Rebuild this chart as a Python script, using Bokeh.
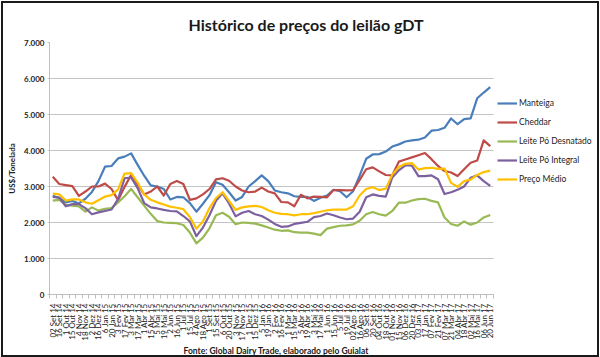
import math
from bokeh.plotting import figure
from bokeh.models import FixedTicker, Legend, LegendItem, Range1d, Title
from bokeh.embed import file_html
from bokeh.resources import INLINE

dates = ["02 Set 14", "16 Set 14", "1 Out 14", "15 Out 14", "4 Nov 14", "18 Nov 14", "2 Dez 14", "16 Dez 14",
         "6 Jan 15", "20 Jan 15", "3 Fev 15", "17 Fev 15", "3 Mar 15", "17 Mar 15", "1 Abr 15", "15 Abr 15",
         "5 Mai 15", "19 Mai 15", "2 Jun 15", "16 Jun 15", "1 Jul 15", "15 Jul 15", "4 Ago 15", "18 Ago 15",
         "1 Set 15", "15 Set 15", "6 Out 15", "20 Out 15", "3 Nov 15", "17 Nov 15", "1 Dez 15", "15 Dez 15",
         "5 Jan 16", "19 Jan 16", "2 Fev 16", "16 Fev 16", "1 Mar 16", "15 Mar 16", "5 Abr 16", "19 Abr 16",
         "3 Mai 16", "17 Mai 16", "1 Jun 16", "15 Jun 16", "5 Jul 16", "19 Jul 16", "02 Ago 16", "16 Ago 16",
         "06 Set 16", "20 Set 16", "04 Out 16", "18 Out 16", "01 Nov 16", "15 Nov 16", "06 Dez 16", "20 Dez 16",
         "03 Jan 17", "17 Jan 17", "07 Fev 17", "21 Fev 17", "07 Mar 17", "21 Mar 17", "04 Abr 17", "18 Abr 17",
         "02 Mai 17", "16 Mai 17", "06 Jun 17", "20 Jun 17"]

manteiga = [2740, 2680, 2560, 2600, 2530, 2660, 2850, 3150, 3550, 3570, 3780, 3830, 3920, 3600, 3300, 3030,
            3000, 2930, 2640, 2710, 2700, 2540, 2300, 2520, 2760, 3120, 3050, 2840, 2610, 2710, 3000, 3150,
            3310, 3150, 2890, 2840, 2810, 2730, 2710, 2710, 2600, 2690, 2750, 2910, 2870, 2700, 2870, 3300,
            3770, 3890, 3900, 3970, 4110, 4170, 4250, 4280, 4300, 4360, 4550, 4570, 4630, 4890, 4730, 4870,
            4890, 5450, 5610, 5760]

cheddar = [3270, 3070, 3040, 3010, 2740, 2860, 3000, 3000, 3080, 2930, 2620, 2990, 3320, 3050, 2780, 2860,
           3000, 2750, 3070, 3150, 3070, 2630, 2670, 2780, 2930, 3200, 3230, 3160, 3000, 2890, 2840, 2860,
           2970, 2860, 2810, 2570, 2560, 2450, 2770, 2670, 2720, 2710, 2700, 2900, 2900, 2890, 2900, 3180,
           3480, 3530, 3420, 3320, 3310, 3690, 3750, 3810, 3870, 3930, 3760, 3570, 3430, 3390, 3290, 3480,
           3660, 3720, 4280, 4120]

leite_po_desnatado = [2610, 2630, 2490, 2470, 2450, 2300, 2420, 2330, 2380, 2400, 2560, 2730, 2930, 2700, 2470, 2240,
                      2040, 2000, 1990, 1980, 1930, 1720, 1420, 1580, 1840, 2200, 2270, 2160, 1950, 2000, 1990, 1970,
                      1920, 1860, 1800, 1770, 1780, 1730, 1720, 1720, 1690, 1650, 1830, 1870, 1910, 1920, 1950, 2050,
                      2230, 2290, 2230, 2190, 2320, 2550, 2550, 2610, 2650, 2660, 2600, 2560, 2140, 1960, 1910, 2030,
                      1940, 2000, 2140, 2210]

leite_po_integral = [2710, 2690, 2450, 2510, 2510, 2400, 2230, 2280, 2320, 2360, 2650, 3230, 3250, 2950, 2540, 2420,
                     2390, 2350, 2320, 2310, 2180, 2030, 1620, 1860, 2200, 2600, 2810, 2530, 2170, 2270, 2320, 2230,
                     2180, 2080, 1960, 1880, 1890, 1960, 1990, 2020, 2150, 2180, 2250, 2200, 2140, 2090, 2110, 2300,
                     2700, 2780, 2740, 2720, 3250, 3450, 3590, 3580, 3290, 3290, 3310, 3200, 2790, 2840, 2910, 3000,
                     3240, 3310, 3150, 3020]

preco_medio = [2800, 2780, 2610, 2640, 2640, 2560, 2520, 2620, 2720, 2760, 2920, 3360, 3370, 3110, 2780, 2630,
               2560, 2500, 2440, 2410, 2370, 2150, 1830, 2030, 2400, 2680, 2840, 2600, 2350, 2420, 2450, 2460,
               2430, 2340, 2270, 2240, 2230, 2200, 2230, 2230, 2260, 2300, 2340, 2360, 2360, 2360, 2450, 2750,
               2930, 2980, 2900, 2940, 3330, 3540, 3630, 3650, 3470, 3510, 3520, 3490, 3500, 3100, 2990, 3150,
               3190, 3320, 3400, 3440]

series_names = ["Manteiga", "Cheddar", "Leite Pó Desnatado", "Leite Pó Integral", "Preço Médio"]
y_ticks = [0, 1000, 2000, 3000, 4000, 5000, 6000, 7000]
y_tick_labels = ["0", "1.000", "2.000", "3.000", "4.000", "5.000", "6.000", "7.000"]

colors = ["#4a7ebb", "#be4b48", "#98b954", "#7d60a0", "#ffc000"]
FONT = "Lato"

n = len(dates)
DATA_W = 444          # pixel width taken by the category area
FRAME_W = 547         # frame also hosts the legend area on its right
x_end = -0.5 + n * FRAME_W / DATA_W

p = figure(frame_width=FRAME_W, frame_height=252, output_backend="svg", toolbar_location=None,
           x_range=Range1d(-0.5, x_end), y_range=Range1d(0, 7000),
           min_border_left=46, min_border_right=1, min_border_top=39, min_border_bottom=56)
p.styles = {"outline": "2px solid #1a1a1a", "margin": "3px"}
p.outline_line_color = None
p.background_fill_color = "white"
p.border_fill_color = "white"

# title (above) and footer (below)
p.title = Title(text="Histórico de preços do leilão gDT", align="left", offset=139,
                text_font=FONT, text_font_style="bold", text_font_size="16px",
                text_color="#1a1a1a", standoff=18, vertical_align="bottom")
p.add_layout(Title(text="Fonte: Global Dairy Trade, elaborado pelo Guialat", align="left", offset=134,
                   text_font=FONT, text_font_style="bold", text_font_size="8.5px",
                   text_color="#1a1a1a", standoff=0), "below")

xs = list(range(n))
all_series = [manteiga, cheddar, leite_po_desnatado, leite_po_integral, preco_medio]
renderers = []
for vals, c in zip(all_series, colors):
    r = p.line(xs, vals, line_color=c, line_width=2.2, line_join="round")
    renderers.append(r)

# x axis
p.xaxis.ticker = FixedTicker(ticks=xs, minor_ticks=[i - 0.5 for i in range(n + 1)])
p.xaxis.bounds = (-0.5, n - 0.5)
p.xaxis.major_label_overrides = {i: d for i, d in enumerate(dates)}
p.xaxis.major_label_orientation = math.pi / 2
p.xaxis.major_label_text_font = FONT
p.xaxis.major_label_text_font_size = "8px"
p.xaxis.major_label_text_color = "#222222"
p.xaxis.major_tick_line_color = None
p.xaxis.minor_tick_line_color = "#bfbfbf"
p.xaxis.minor_tick_out = 4
p.xaxis.minor_tick_in = 0
p.xaxis.axis_line_color = "#bfbfbf"
p.xaxis.major_label_standoff = 3
p.xgrid.grid_line_color = None

# y axis
p.yaxis.ticker = FixedTicker(ticks=y_ticks, minor_ticks=[])
p.yaxis.major_label_overrides = {t: l for t, l in zip(y_ticks, y_tick_labels)}
p.yaxis.major_label_text_font = FONT
p.yaxis.major_label_text_font_style = "bold"
p.yaxis.major_label_text_font_size = "8px"
p.yaxis.major_label_text_color = "#222222"
p.yaxis.major_tick_line_color = "#bfbfbf"
p.yaxis.major_tick_out = 2
p.yaxis.major_tick_in = 0
p.yaxis.minor_tick_line_color = None
p.yaxis.axis_line_color = "#bfbfbf"
p.yaxis.major_label_standoff = 3
p.yaxis.axis_label = "US$/Tonelada"
p.yaxis.axis_label_text_font = FONT
p.yaxis.axis_label_text_font_style = "bold"
p.yaxis.axis_label_text_font_size = "8px"
p.yaxis.axis_label_text_color = "#222222"
p.yaxis.axis_label_standoff = 4
p.ygrid.grid_line_color = "#c4c4c4"
p.ygrid.grid_line_width = 1
p.ygrid.cross_bounds = (-0.5, n - 0.5)

legend = Legend(items=[LegendItem(label=s, renderers=[r]) for s, r in zip(series_names, renderers)],
                location=(448, 109), padding=0, margin=0, spacing=7,
                glyph_width=20, glyph_height=12, label_height=12, label_standoff=2,
                label_text_font=FONT, label_text_font_size="8.5px", label_text_color="#222222",
                border_line_color=None, background_fill_alpha=0)
p.add_layout(legend, "center")

open("out.html", "w").write(file_html(p, INLINE))
